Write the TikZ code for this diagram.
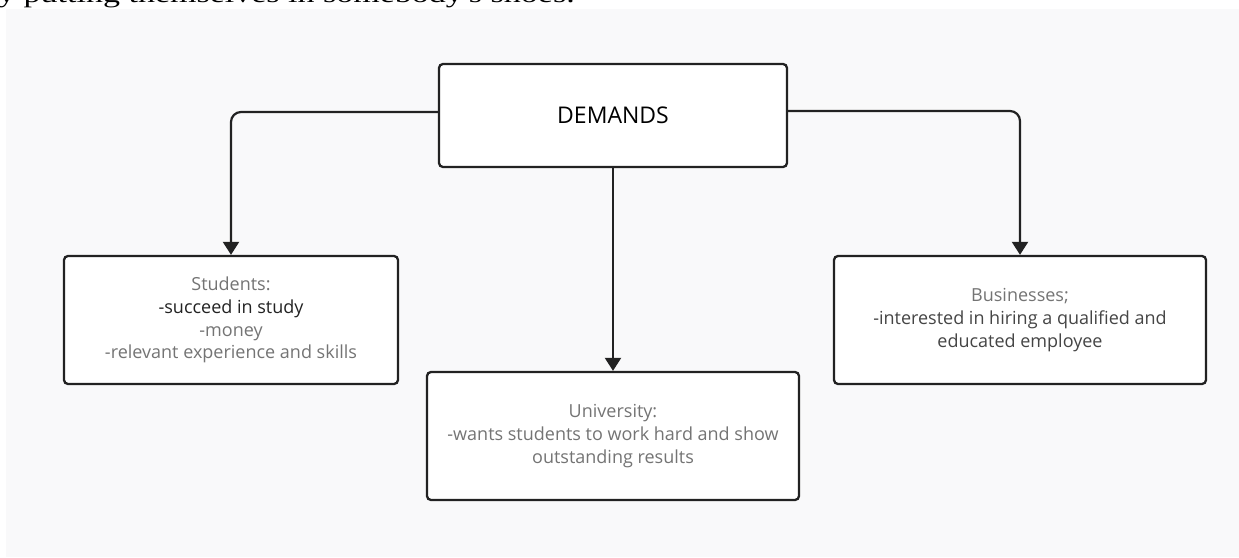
\documentclass[tikz,border=0pt]{standalone}
\usepackage{fontspec}
\setmainfont{Open Sans}
\newfontfamily\bookfont{Liberation Serif}
\usetikzlibrary{arrows.meta}

\definecolor{canvasgray}{HTML}{F9F9FA}
\definecolor{edgeink}{HTML}{222222}
\definecolor{darkink}{HTML}{222222}
\definecolor{midink}{HTML}{454545}
\definecolor{lightink}{HTML}{747474}

\begin{document}
\begin{tikzpicture}[x=1pt, y=-1pt,
  box/.style={draw=edgeink, line width=2.3pt, fill=white, rounded corners=4pt,
    align=center, inner sep=0pt, font=\fontsize{18}{22.7}\selectfont, text=lightink},
  link/.style={draw=edgeink, line width=2.2pt, rounded corners=10pt,
    -{Triangle[length=13pt, width=16pt]}}]
  \useasboundingbox (0,0) rectangle (1239,557);

  % Page background
  \fill[white] (0,0) rectangle (1239,557);
  \fill[canvasgray] (6,9) rectangle (1239,557);
  \node[anchor=base west, inner sep=0pt, font=\bookfont\fontsize{25}{25}\selectfont]
    (tail) at (-2,2.5) {\scalebox{1.36}[1]{y putting themselves in somebody's shoes.}};

  % Boxes
  \node[box, minimum width=348pt, minimum height=103pt,
    font=\fontsize{23}{26}\selectfont, text=black] (demands) at (613,115.5) {DEMANDS};
  \node[box, minimum width=334pt, minimum height=128pt] (students) at (231,320)
    {Students:\\ \textcolor{darkink}{-succeed in study}\\ -money\\
     -relevant experience and skills};
  \node[box, minimum width=372pt, minimum height=128pt] (university) at (613,436)
    {University:\\ -wants students to work hard and show\\ outstanding results};
  \node[box, minimum width=372pt, minimum height=128pt] (businesses) at (1020,320)
    {Businesses;\\ \textcolor{midink}{-interested in hiring a qualified and}\\
     \textcolor{midink}{educated employee}};

  % Arrows
  \draw[link] ([yshift=3.5pt]demands.west) -| (students.north);
  \draw[link] (demands.south) -- (university.north);
  \draw[link] ([yshift=4.5pt]demands.east) -| (businesses.north);

\end{tikzpicture}
\end{document}
